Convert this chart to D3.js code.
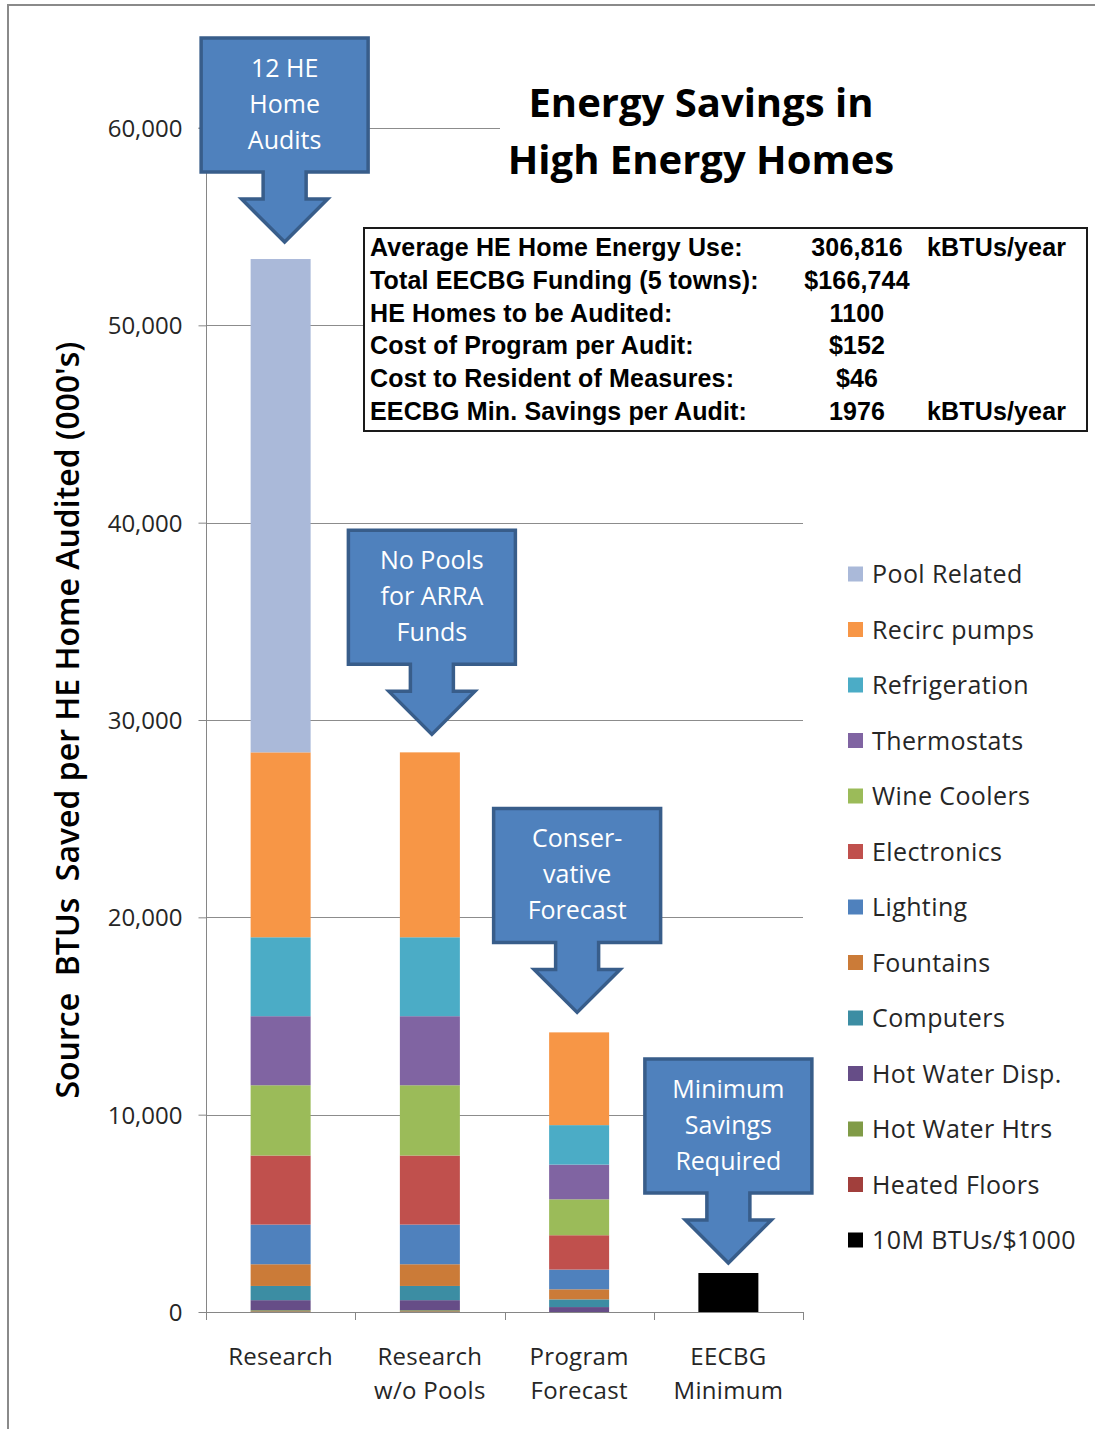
<!DOCTYPE html>
<html>
<head>
<meta charset="utf-8">
<script src="https://cdn.jsdelivr.net/npm/d3@7"></script>
<style>
  html, body { margin: 0; padding: 0; background: #fff; }
  svg { display: block; }
</style>
</head>
<body>
<svg id="chart" width="1095" height="1429"></svg>
<script>
// ---------------- DATA ----------------
const categories = [["Research"], ["Research", "w/o Pools"], ["Program", "Forecast"], ["EECBG", "Minimum"]];
const categoryKeys = ["Research", "Research w/o Pools", "Program Forecast", "EECBG Minimum"];

// series listed bottom of stack -> top of stack
const seriesNames = ["10M BTUs/$1000", "Heated Floors", "Hot Water Htrs", "Hot Water Disp.", "Computers",
  "Fountains", "Lighting", "Electronics", "Wine Coolers", "Thermostats", "Refrigeration", "Recirc pumps", "Pool Related"];

const tenMBtus      = [0, 0, 0, 1976];
const heatedFloors  = [30, 30, 0, 0];
const hotWaterHtrs  = [60, 60, 0, 0];
const hotWaterDisp  = [510, 510, 250, 0];
const computers     = [720, 720, 390, 0];
const fountains     = [1100, 1100, 510, 0];
const lighting      = [2010, 2010, 1000, 0];
const electronics   = [3500, 3500, 1740, 0];
const wineCoolers   = [3560, 3560, 1820, 0];
const thermostats   = [3500, 3500, 1760, 0];
const refrigeration = [4000, 4000, 2000, 0];
const recircPumps   = [9370, 9370, 4700, 0];
const poolRelated   = [25000, 0, 0, 0];

const seriesValues = [tenMBtus, heatedFloors, hotWaterHtrs, hotWaterDisp, computers, fountains,
  lighting, electronics, wineCoolers, thermostats, refrigeration, recircPumps, poolRelated];

const seriesColors = ["#000000", "#A13F3C", "#809B47", "#664D87", "#3C8DA3", "#CB7B38",
  "#4F81BD", "#C0504D", "#9BBB59", "#8064A2", "#4BACC6", "#F79646", "#AAB9D9"];

const yTicks = [0, 10000, 20000, 30000, 40000, 50000, 60000];

const titleLines = ["Energy Savings in", "High Energy Homes"];
const yAxisTitle = "Source  BTUs  Saved per HE Home Audited (000's)";

const calloutTexts = [["12 HE", "Home", "Audits"], ["No Pools", "for ARRA", "Funds"],
  ["Conser-", "vative", "Forecast"], ["Minimum", "Savings", "Required"]];

const tableLabels = ["Average HE Home Energy Use:", "Total EECBG Funding (5 towns):", "HE Homes to be Audited:",
  "Cost of Program per Audit:", "Cost to Resident of Measures:", "EECBG Min. Savings per Audit:"];
const tableValues = ["306,816", "$166,744", "1100", "$152", "$46", "1976"];
const tableUnits  = ["kBTUs/year", "", "", "", "", "kBTUs/year"];

// ---------------- LAYOUT ----------------
const FONT = "'Open Sans', sans-serif";
const svg = d3.select("#chart");
const plot = { left: 206, right: 803, top: 128, bottom: 1312 };

const x = d3.scaleBand().domain(categoryKeys).range([plot.left, plot.right])
  .paddingInner(0.598).paddingOuter(0.299);
const y = d3.scaleLinear().domain([0, 60000]).range([plot.bottom, plot.top]);

const rows = categoryKeys.map((c, i) => {
  const r = { cat: c };
  seriesNames.forEach((s, j) => r[s] = seriesValues[j][i]);
  return r;
});
const stacked = d3.stack().keys(seriesNames)(rows);
const color = d3.scaleOrdinal().domain(seriesNames).range(seriesColors);

// outer frame
svg.append("rect").attr("x", 8).attr("y", 5).attr("width", 1100).attr("height", 1440)
  .attr("fill", "none").attr("stroke", "#8a8a8a").attr("stroke-width", 2);

// gridlines
svg.append("g").selectAll("line").data(yTicks.filter(d => d > 0)).join("line")
  .attr("x1", plot.left).attr("x2", plot.right)
  .attr("y1", d => Math.round(y(d)) + 0.5).attr("y2", d => Math.round(y(d)) + 0.5)
  .attr("stroke", "#8c8c8c").attr("stroke-width", 1);

// bars
svg.append("g").selectAll("g").data(stacked).join("g")
  .attr("fill", d => color(d.key))
  .selectAll("rect").data(d => d.map(v => ({ v, cat: v.data.cat }))).join("rect")
  .attr("x", d => x(d.cat))
  .attr("width", x.bandwidth())
  .attr("y", d => y(d.v[1]))
  .attr("height", d => Math.max(0, y(d.v[0]) - y(d.v[1])));

// y axis
const yAxis = d3.axisLeft(y).tickValues(yTicks).tickSize(8).tickPadding(16)
  .tickFormat(d3.format(","));
const gy = svg.append("g").attr("transform", `translate(${plot.left + 0.5},0)`).call(yAxis);
gy.select(".domain").attr("stroke", "#868686").attr("d", `M-8,${plot.top}H0V${plot.bottom}`);
gy.selectAll(".tick line").attr("stroke", "#868686");
gy.selectAll(".tick text").style("font-family", FONT).style("font-size", "24px")
  .attr("fill", "#262626").attr("dy", "0.36em");

// x axis
const xLine = svg.append("g");
xLine.append("line").attr("x1", plot.left).attr("x2", plot.right)
  .attr("y1", plot.bottom + 0.5).attr("y2", plot.bottom + 0.5).attr("stroke", "#868686");
const bounds = d3.range(categoryKeys.length + 1).map(i => plot.left + i * x.step());
xLine.selectAll(".xt").data(bounds).join("line").attr("class", "xt")
  .attr("x1", d => Math.round(d) + 0.5).attr("x2", d => Math.round(d) + 0.5)
  .attr("y1", plot.bottom).attr("y2", plot.bottom + 8).attr("stroke", "#868686");
const xl = svg.append("g").selectAll("text").data(categoryKeys).join("text")
  .attr("x", d => x(d) + x.bandwidth() / 2)
  .attr("y", 1365)
  .attr("text-anchor", "middle").style("font-family", FONT).style("font-size", "24px")
  .attr("fill", "#262626").attr("letter-spacing", 0.3);
xl.each(function(d, i) {
  d3.select(this).selectAll("tspan").data(categories[i]).join("tspan")
    .attr("x", x(d) + x.bandwidth() / 2).attr("dy", (t, k) => k === 0 ? 0 : 34).text(t => t);
});

// y axis title
svg.append("text").attr("transform", "translate(79,720) rotate(-90)")
  .attr("text-anchor", "middle").style("font-family", FONT).style("font-size", "32px")
  .style("font-weight", 600).attr("fill", "#000").style("white-space", "pre").text(yAxisTitle);

// callouts
const boxW = 167, boxH = 134, stemW = 43, stemH = 27, headW = 86, headH = 43;
const tipGaps = [17, 18, 20, 10];
const tipShift = [4, 2, -2, 0];
const totals = categoryKeys.map((c, i) => d3.sum(seriesValues, s => s[i]));
const cg = svg.append("g");
categoryKeys.forEach((c, i) => {
  const cx = x(c) + x.bandwidth() / 2 + tipShift[i];
  const tip = y(totals[i]) - tipGaps[i];
  const yh = tip - headH, yb = yh - stemH, top = yb - boxH;
  const l = cx - boxW / 2, r = cx + boxW / 2;
  const p = d3.path();
  p.moveTo(l, top); p.lineTo(r, top); p.lineTo(r, yb); p.lineTo(cx + stemW / 2, yb);
  p.lineTo(cx + stemW / 2, yh); p.lineTo(cx + headW / 2, yh); p.lineTo(cx, tip);
  p.lineTo(cx - headW / 2, yh); p.lineTo(cx - stemW / 2, yh); p.lineTo(cx - stemW / 2, yb);
  p.lineTo(l, yb); p.closePath();
  cg.append("path").attr("d", p.toString()).attr("fill", "#4F81BD")
    .attr("stroke", "#385D8A").attr("stroke-width", 3.5).attr("stroke-linejoin", "miter");
  cg.append("g").selectAll("text").data(calloutTexts[i]).join("text")
    .attr("x", cx).attr("y", (t, k) => top + 39 + k * 36)
    .attr("text-anchor", "middle").style("font-family", FONT).style("font-size", "25px")
    .attr("fill", "#fff").text(t => t);
});

// title
svg.append("rect").attr("x", 500).attr("y", 72).attr("width", 400).attr("height", 120).attr("fill", "#fff");
svg.append("g").selectAll("text").data(titleLines).join("text")
  .attr("x", 701).attr("y", (t, k) => 117 + k * 57)
  .attr("text-anchor", "middle").style("font-family", FONT).style("font-size", "40px")
  .style("font-weight", 700).attr("fill", "#000").text(t => t);

// info table
const tb = svg.append("g");
tb.append("rect").attr("x", 364).attr("y", 228).attr("width", 723).attr("height", 203)
  .attr("fill", "#fff").attr("stroke", "#1a1a1a").attr("stroke-width", 2);
const rowY = k => 256 + k * 32.8;
tb.selectAll(".lab").data(tableLabels).join("text").attr("class", "lab")
  .attr("x", 370).attr("y", (t, k) => rowY(k)).text(t => t);
tb.selectAll(".val").data(tableValues).join("text").attr("class", "val")
  .attr("x", 857).attr("y", (t, k) => rowY(k)).attr("text-anchor", "middle").text(t => t);
tb.selectAll(".unit").data(tableUnits).join("text").attr("class", "unit")
  .attr("x", 927).attr("y", (t, k) => rowY(k)).text(t => t);
tb.selectAll("text").style("font-family", "'Liberation Sans', Arial, sans-serif")
  .style("font-size", "25px").style("font-weight", 700).attr("fill", "#000").attr("letter-spacing", 0.15);

// legend
const legendOrder = seriesNames.slice().reverse();
const lg = svg.append("g").selectAll("g").data(legendOrder).join("g")
  .attr("transform", (d, k) => `translate(848,${574 + k * 55.5})`);
lg.append("rect").attr("x", 0).attr("y", -7.5).attr("width", 15).attr("height", 15)
  .attr("fill", d => color(d));
lg.append("text").attr("x", 24).attr("y", 9).style("font-family", FONT).style("font-size", "25px")
  .attr("letter-spacing", 0.4).attr("fill", "#262626").text(d => d);
</script>
</body>
</html>
